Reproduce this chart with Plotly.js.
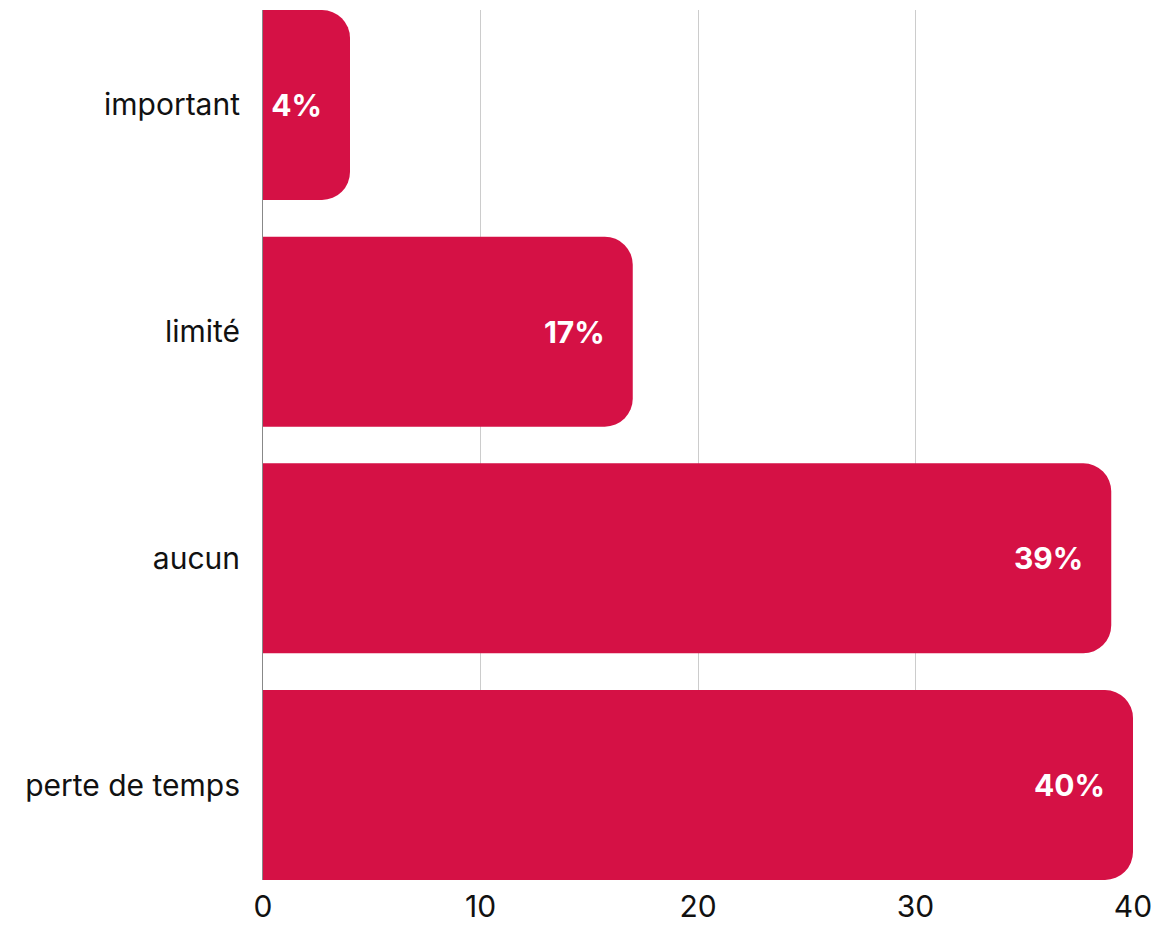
<!DOCTYPE html>
<html>
<head>
<meta charset="utf-8">
<script src="https://cdn.plot.ly/plotly-3.0.1.min.js"></script>
<style>html,body{margin:0;padding:0;background:#fff;}#chart{width:1157px;height:926px;}</style>
</head>
<body>
<div id="chart"></div>
<script>
const categories = ["important", "limité", "aucun", "perte de temps"];
const values = [4, 17, 39, 40];
const labels = ["4%", "17%", "39%", "40%"];
const xTicks = [0, 10, 20, 30, 40];

const trace = {
  type: "bar",
  orientation: "h",
  y: categories,
  x: values,
  text: labels,
  texttemplate: "%{text}",
  textposition: "inside",
  insidetextanchor: "end",
  textangle: 0,
  textfont: {family: "Inter, sans-serif", size: 30, color: "#ffffff", weight: 700},
  marker: {color: "#d51145", cornerradius: 28},
  hoverinfo: "none",
  cliponaxis: false
};

const layout = {
  width: 1157,
  height: 926,
  margin: {l: 263, r: 24, t: 10, b: 46},
  paper_bgcolor: "#ffffff",
  plot_bgcolor: "#ffffff",
  showlegend: false,
  bargap: 0.162,
  font: {family: "Inter, sans-serif", size: 30, color: "#111111"},
  xaxis: {
    range: [0, 40],
    tickvals: xTicks,
    showgrid: true,
    gridcolor: "#cccccc",
    gridwidth: 1,
    zeroline: false,
    showline: false,
    ticks: "",
    ticklabelstandoff: 6,
    tickfont: {size: 30, color: "#111111"},
    fixedrange: true
  },
  yaxis: {
    type: "category",
    range: [3.419, -0.419],
    showgrid: false,
    zeroline: false,
    showline: true,
    linecolor: "#888888",
    linewidth: 1,
    ticks: "",
    ticklabelstandoff: 16,
    tickfont: {size: 30, color: "#111111"},
    fixedrange: true
  }
};

Plotly.newPlot("chart", [trace], layout, {displayModeBar: false, staticPlot: true});
</script>
</body>
</html>
